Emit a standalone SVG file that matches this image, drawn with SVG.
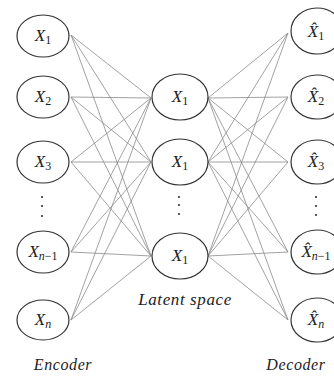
<svg xmlns="http://www.w3.org/2000/svg" width="334" height="376" viewBox="0 0 334 376">
<style>
.n{fill:#fff;stroke:#333;stroke-width:1.2}
.t{font-family:"Liberation Serif",serif;font-style:italic;font-size:17px;fill:#222;text-anchor:middle}
.s{font-size:12px;font-style:normal}
.si{font-size:12px}
.c line{stroke:#8a8a8a;stroke-width:0.8}
.d{fill:#333}
.cap{font-family:"Liberation Serif",serif;font-style:italic;font-size:16px;fill:#222;text-anchor:middle;letter-spacing:0.6px}
</style>
<rect width="334" height="376" fill="#fff"/>
<g class="c" id="connectors">
<line x1="71" y1="35" x2="151" y2="98"/><line x1="71" y1="35" x2="151" y2="162"/><line x1="71" y1="35" x2="151" y2="256"/>
<line x1="71" y1="97" x2="151" y2="98"/><line x1="71" y1="97" x2="151" y2="162"/><line x1="71" y1="97" x2="151" y2="256"/>
<line x1="71" y1="162" x2="151" y2="98"/><line x1="71" y1="162" x2="151" y2="162"/><line x1="71" y1="162" x2="151" y2="256"/>
<line x1="71" y1="252" x2="151" y2="98"/><line x1="71" y1="252" x2="151" y2="162"/><line x1="71" y1="252" x2="151" y2="256"/>
<line x1="71" y1="320" x2="151" y2="98"/><line x1="71" y1="320" x2="151" y2="162"/><line x1="71" y1="320" x2="151" y2="256"/>
<line x1="208" y1="98" x2="288" y2="33"/><line x1="208" y1="162" x2="288" y2="33"/><line x1="208" y1="256" x2="288" y2="33"/>
<line x1="208" y1="98" x2="288" y2="97"/><line x1="208" y1="162" x2="288" y2="97"/><line x1="208" y1="256" x2="288" y2="97"/>
<line x1="208" y1="98" x2="288" y2="162"/><line x1="208" y1="162" x2="288" y2="162"/><line x1="208" y1="256" x2="288" y2="162"/>
<line x1="208" y1="98" x2="288" y2="252"/><line x1="208" y1="162" x2="288" y2="252"/><line x1="208" y1="256" x2="288" y2="252"/>
<line x1="208" y1="98" x2="288" y2="320"/><line x1="208" y1="162" x2="288" y2="320"/><line x1="208" y1="256" x2="288" y2="320"/>
</g>
<g id="in1"><ellipse class="n" cx="43" cy="36" rx="26" ry="21"/><text class="t" x="43" y="41">X<tspan class="s" dy="3">1</tspan></text></g>
<g id="in2"><ellipse class="n" cx="43" cy="97" rx="26" ry="21"/><text class="t" x="43" y="102">X<tspan class="s" dy="3">2</tspan></text></g>
<g id="in3"><ellipse class="n" cx="43" cy="162" rx="26" ry="21"/><text class="t" x="43" y="167">X<tspan class="s" dy="3">3</tspan></text></g>
<g id="indots"><circle class="d" cx="42" cy="197" r="1.1"/><circle class="d" cx="42" cy="206" r="1.1"/><circle class="d" cx="42" cy="216" r="1.1"/></g>
<g id="inn1"><ellipse class="n" cx="43" cy="252" rx="26" ry="21"/><text class="t" x="43" y="257">X<tspan class="si" dy="3">n</tspan><tspan class="s">−1</tspan></text></g>
<g id="inn"><ellipse class="n" cx="43" cy="320" rx="26" ry="20"/><text class="t" x="43" y="325">X<tspan class="si" dy="3">n</tspan></text></g>
<g id="lat1"><ellipse class="n" cx="180" cy="97" rx="28" ry="23"/><text class="t" x="180" y="102">X<tspan class="s" dy="3">1</tspan></text></g>
<g id="lat2"><ellipse class="n" cx="180" cy="162" rx="28" ry="23"/><text class="t" x="180" y="167">X<tspan class="s" dy="3">1</tspan></text></g>
<g id="latdots"><circle class="d" cx="179" cy="197" r="1.1"/><circle class="d" cx="179" cy="205" r="1.1"/><circle class="d" cx="179" cy="214" r="1.1"/></g>
<g id="lat3"><ellipse class="n" cx="180" cy="256" rx="28" ry="23"/><text class="t" x="180" y="261">X<tspan class="s" dy="3">1</tspan></text></g>
<g id="out1"><ellipse class="n" cx="317" cy="31" rx="26" ry="23"/><text class="t" x="316" y="37">X̂<tspan class="s" dy="3">1</tspan></text></g>
<g id="out2"><ellipse class="n" cx="317" cy="97" rx="26" ry="22"/><text class="t" x="316" y="102">X̂<tspan class="s" dy="3">2</tspan></text></g>
<g id="out3"><ellipse class="n" cx="317" cy="162" rx="26" ry="22"/><text class="t" x="316" y="167">X̂<tspan class="s" dy="3">3</tspan></text></g>
<g id="outdots"><circle class="d" cx="316" cy="197" r="1.1"/><circle class="d" cx="316" cy="206" r="1.1"/><circle class="d" cx="316" cy="215" r="1.1"/></g>
<g id="outn1"><ellipse class="n" cx="317" cy="252" rx="26" ry="22"/><text class="t" x="316" y="257">X̂<tspan class="si" dy="3">n</tspan><tspan class="s">−1</tspan></text></g>
<g id="outn"><ellipse class="n" cx="317" cy="320" rx="26" ry="22"/><text class="t" x="316" y="325">X̂<tspan class="si" dy="3">n</tspan></text></g>
<text class="cap" x="63" y="370">Encoder</text>
<text class="cap" x="185" y="305" style="font-size:17px">Latent space</text>
<text class="cap" x="296" y="370">Decoder</text>
</svg>
